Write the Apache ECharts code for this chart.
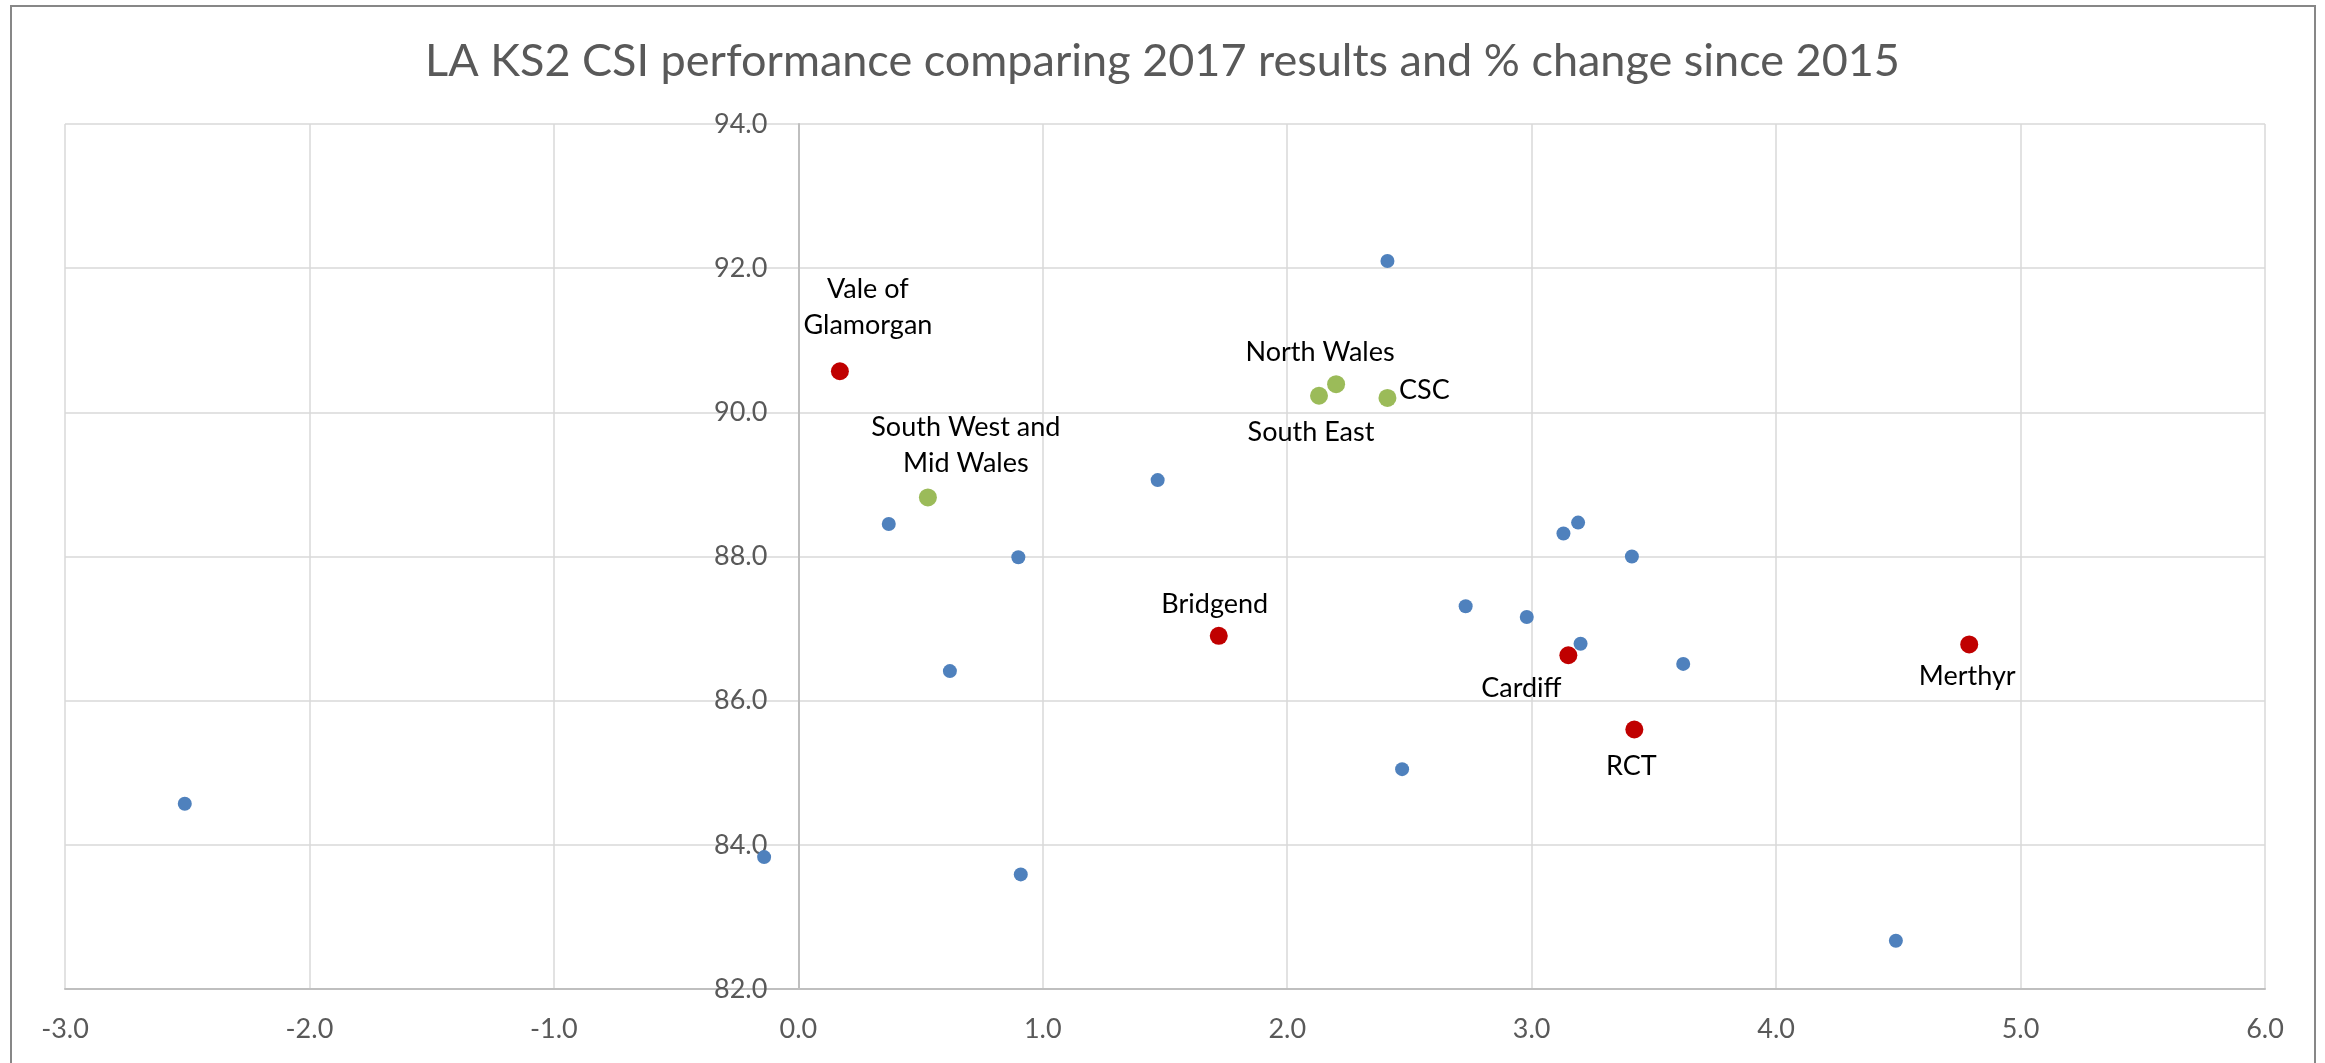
<!DOCTYPE html>
<html>
<head>
<meta charset="utf-8">
<script src="https://cdn.jsdelivr.net/npm/echarts@6/dist/echarts.min.js"></script>
<style>
html,body{margin:0;padding:0;background:#fff;}
#chart{width:2325px;height:1063px;}
</style>
</head>
<body>
<div id="chart"></div>
<script>
// ---- Data ----
const chartTitle = 'LA KS2 CSI performance comparing 2017 results and % change since 2015';

// Other local authorities (blue, unlabelled): % change since 2015, 2017 CSI
const otherX = [-2.51, -0.14, 0.37, 0.62, 0.90, 0.91, 1.47, 2.41, 2.47, 2.73, 2.98, 3.13, 3.19, 3.20, 3.41, 3.62, 4.49];
const otherY = [84.57, 83.83, 88.45, 86.41, 87.99, 83.59, 89.06, 92.10, 85.05, 87.31, 87.16, 88.32, 88.47, 86.79, 88.00, 86.51, 82.67];

// CSC local authorities (red)
const cscNames = ['Vale of Glamorgan', 'Bridgend', 'Cardiff', 'RCT', 'Merthyr'];
const cscX = [0.17, 1.72, 3.15, 3.42, 4.79];
const cscY = [90.57, 86.90, 86.63, 85.60, 86.78];

// Regional consortia (green)
const regionNames = ['South West and Mid Wales', 'North Wales', 'South East', 'CSC'];
const regionX = [0.53, 2.20, 2.13, 2.41];
const regionY = [88.82, 90.39, 90.23, 90.20];

// Axis ticks
const xTicks = [-3, -2, -1, 0, 1, 2, 3, 4, 5, 6];
const yTicks = [82, 84, 86, 88, 90, 92, 94];

// ---- Label layout (kept apart from data) ----
const labelLayout = {
  'Vale of Glamorgan': { offset: [28, -64], text: 'Vale of\nGlamorgan' },
  'Bridgend': { offset: [-4, -31] },
  'Cardiff': { offset: [-47, 33] },
  'RCT': { offset: [-3, 37] },
  'Merthyr': { offset: [-2, 32] },
  'South West and Mid Wales': { offset: [38, -52], text: 'South West and\nMid Wales' },
  'North Wales': { offset: [-16, -32] },
  'South East': { offset: [-8, 37] },
  'CSC': { offset: [37, -8] }
};

const FONT = 'Lato';
const GRID = { left: 65, right: 60, top: 124, bottom: 74 };

function buildPoints(names, xs, ys) {
  return xs.map((x, i) => {
    const name = names ? names[i] : '';
    const item = { value: [x, ys[i]], name: name };
    if (names) {
      const lay = labelLayout[name] || { offset: [0, -30] };
      item.label = {
        show: true,
        position: 'inside',
        offset: lay.offset,
        formatter: lay.text || name,
        align: 'center',
        verticalAlign: 'middle',
        color: '#000',
        fontFamily: FONT,
        fontSize: 27,
        lineHeight: 36
      };
    }
    return item;
  });
}

const chart = echarts.init(document.getElementById('chart'), null, { renderer: 'canvas' });

const option = {
  backgroundColor: '#ffffff',
  animation: false,
  title: {
    text: chartTitle,
    left: 'center',
    top: 34,
    textStyle: { fontFamily: FONT, fontSize: 45, fontWeight: 'normal', color: '#595959' }
  },
  graphic: [{
    type: 'rect',
    silent: true,
    z: -10,
    shape: { x: 11, y: 6, width: 2304, height: 1100 },
    style: { fill: 'none', stroke: '#878787', lineWidth: 2 }
  }],
  grid: {
    left: GRID.left, right: GRID.right, top: GRID.top, bottom: GRID.bottom,
    containLabel: false,
    outerBoundsMode: 'none'
  },
  xAxis: {
    type: 'value',
    min: xTicks[0],
    max: xTicks[xTicks.length - 1],
    interval: 1,
    axisLine: { show: true, onZero: false, lineStyle: { color: '#BFBFBF', width: 2 } },
    axisTick: { show: false },
    splitLine: { show: true, lineStyle: { color: '#D9D9D9', width: 1.5 } },
    axisLabel: {
      margin: 27,
      color: '#595959',
      fontFamily: FONT,
      fontSize: 27,
      formatter: v => v.toFixed(1)
    }
  },
  yAxis: {
    type: 'value',
    min: yTicks[0],
    max: yTicks[yTicks.length - 1],
    interval: 2,
    offset: 0,
    axisLine: { show: true, onZero: false, lineStyle: { color: '#BFBFBF', width: 2 } },
    axisTick: { show: false },
    splitLine: { show: true, lineStyle: { color: '#D9D9D9', width: 1.5 } },
    axisLabel: {
      margin: 31,
      color: '#595959',
      fontFamily: FONT,
      fontSize: 27,
      formatter: v => v.toFixed(1)
    }
  },
  series: [
    {
      name: 'Other LAs',
      type: 'scatter',
      symbol: 'circle',
      symbolSize: 14,
      itemStyle: { color: '#4F81BD', opacity: 1 },
      data: buildPoints(null, otherX, otherY)
    },
    {
      name: 'CSC LAs',
      type: 'scatter',
      symbol: 'circle',
      symbolSize: 18,
      itemStyle: { color: '#C00000', opacity: 1 },
      data: buildPoints(cscNames, cscX, cscY)
    },
    {
      name: 'Consortia',
      type: 'scatter',
      symbol: 'circle',
      symbolSize: 18,
      itemStyle: { color: '#9BBB59', opacity: 1 },
      data: buildPoints(regionNames, regionX, regionY)
    }
  ]
};

chart.setOption(option);
// Move the vertical axis (line + labels) so it crosses the horizontal axis at 0
const zeroPx = chart.convertToPixel({ xAxisIndex: 0 }, 0);
const leftPx = chart.convertToPixel({ xAxisIndex: 0 }, xTicks[0]);
chart.setOption({ yAxis: { offset: -(zeroPx - leftPx) } });
</script>
</body>
</html>
